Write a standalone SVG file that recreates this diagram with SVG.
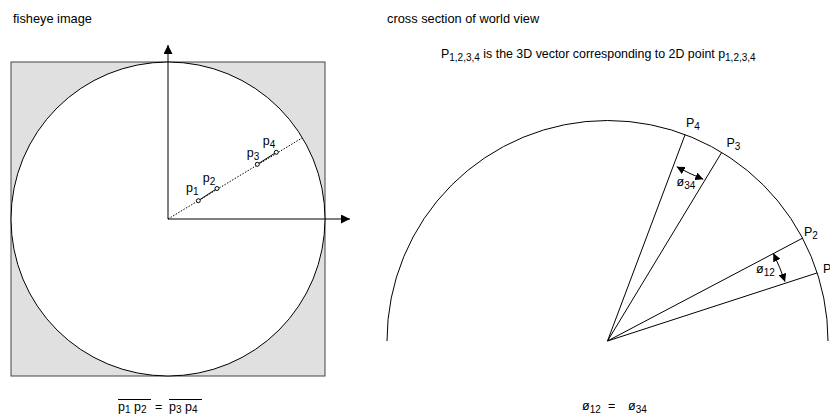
<svg xmlns="http://www.w3.org/2000/svg" width="830" height="419" viewBox="0 0 830 419">
<style>
text{font-family:"Liberation Sans",Arial,sans-serif;fill:#000}
.t{font-size:12.8px}
.st{font-size:12.4px}
.l{font-size:12.5px}
.s{font-size:10px}
.ln{stroke:#000;stroke-width:1;fill:none}
</style>
<defs>
<marker id="ah" viewBox="0 0 10 10" refX="10" refY="5" markerWidth="10" markerHeight="9" markerUnits="userSpaceOnUse" orient="auto-start-reverse">
<path d="M0,0 L10,5 L0,10 Z" fill="#000"/>
</marker>
<marker id="sh" viewBox="0 0 10 10" refX="10" refY="5" markerWidth="8" markerHeight="8" markerUnits="userSpaceOnUse" orient="auto-start-reverse">
<path d="M0,0 L10,5 L0,10 Z" fill="#000"/>
</marker>
</defs>
<rect width="830" height="419" fill="#fff"/>
<g id="titles">
<text class="t" x="13" y="23">fisheye image</text>
<text class="t" x="387" y="23">cross section of world view</text>
<text class="st" x="441" y="58">P<tspan class="s" dy="3">1,2,3,4</tspan><tspan dy="-3"> is the 3D vector corresponding to 2D point p</tspan><tspan class="s" dy="3">1,2,3,4</tspan></text>
</g>
<g id="fisheye">
<rect x="11" y="62" width="314" height="314" fill="#e0e0e0" stroke="#444" stroke-width="1"/>
<circle cx="168" cy="219" r="157" fill="#fff" stroke="#000" stroke-width="1"/>
</g>
<g id="connectors">
<line class="ln" x1="168" y1="219" x2="168" y2="45" marker-end="url(#ah)"/>
<line class="ln" x1="168" y1="219" x2="350" y2="219" marker-end="url(#ah)"/>
<line class="ln" x1="168" y1="219" x2="302" y2="138" stroke-dasharray="1.5,1.5"/>
<line class="ln" x1="198.3" y1="200.7" x2="217" y2="188.5" stroke-width="1.3"/>
<line class="ln" x1="257.3" y1="164.3" x2="276.3" y2="152.3" stroke-width="1.3"/>
<path class="ln" d="M387,341 A220.5,220.5 0 0 1 828,341"/>
<line class="ln" x1="607.5" y1="341" x2="685.1" y2="134.6"/>
<line class="ln" x1="607.5" y1="341" x2="721.7" y2="152.4"/>
<line class="ln" x1="607.5" y1="341" x2="802.5" y2="238.2"/>
<line class="ln" x1="607.5" y1="341" x2="817.2" y2="272.9"/>
<path class="ln" d="M676.7,166.7 Q690,174 703.3,179.3" marker-start="url(#sh)" marker-end="url(#sh)"/>
<path class="ln" d="M773.3,253.3 Q780,267 785,281.7" marker-start="url(#sh)" marker-end="url(#sh)"/>
</g>
<g id="points" fill="#fff" stroke="#000" stroke-width="1">
<circle cx="198.3" cy="200.7" r="2"/>
<circle cx="217" cy="188.5" r="2"/>
<circle cx="257.3" cy="164.3" r="2"/>
<circle cx="276.3" cy="152.3" r="2"/>
</g>
<g id="labels">
<text class="l" x="186" y="192">p<tspan class="s" dy="3">1</tspan></text>
<text class="l" x="202.7" y="182">p<tspan class="s" dy="3">2</tspan></text>
<text class="l" x="246.7" y="157">p<tspan class="s" dy="3">3</tspan></text>
<text class="l" x="262.7" y="145">p<tspan class="s" dy="3">4</tspan></text>
<text class="l" x="686" y="127">P<tspan class="s" dy="3">4</tspan></text>
<text class="l" x="726.5" y="147">P<tspan class="s" dy="3">3</tspan></text>
<text class="l" x="804" y="236">P<tspan class="s" dy="3">2</tspan></text>
<text class="l" x="823" y="273">P</text>
<text class="l" x="676.5" y="186">ø<tspan class="s" dy="3">34</tspan></text>
<text class="l" x="756" y="273">ø<tspan class="s" dy="3">12</tspan></text>
</g>
<g id="equations">
<text class="l" x="118" y="411">p<tspan class="s" dy="2">1</tspan><tspan dy="-2"> p</tspan><tspan class="s" dy="2">2</tspan><tspan dy="-2" x="155">=</tspan><tspan x="169">p</tspan><tspan class="s" dy="2">3</tspan><tspan dy="-2"> p</tspan><tspan class="s" dy="2">4</tspan></text>
<line x1="118" y1="399.5" x2="151" y2="399.5" stroke="#000" stroke-width="1"/>
<line x1="169" y1="399.5" x2="202" y2="399.5" stroke="#000" stroke-width="1"/>
<text class="l" x="582" y="410">ø<tspan class="s" dy="3">12</tspan><tspan dy="-3" x="608">=</tspan><tspan x="628">ø</tspan><tspan class="s" dy="3">34</tspan></text>
</g>
</svg>
